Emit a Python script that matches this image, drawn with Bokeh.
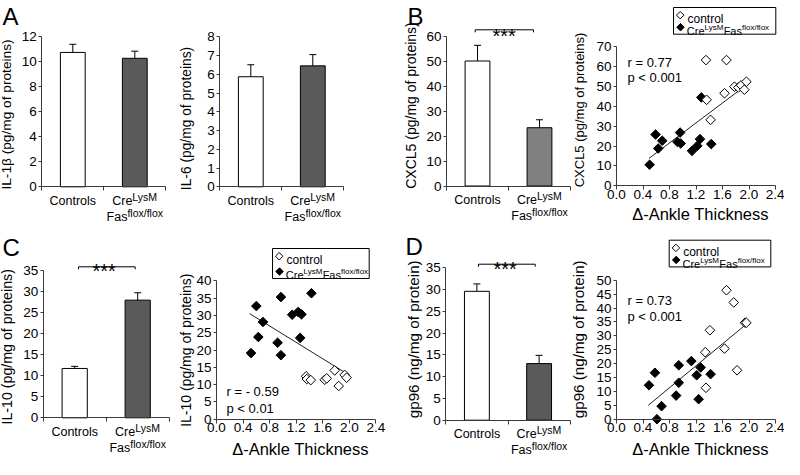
import math
from bokeh.plotting import figure
from bokeh.models import (Range1d, FixedTicker, PrintfTickFormatter, Label,
                          Whisker, TeeHead, ColumnDataSource, LinearAxis)
from bokeh.embed import file_html
from bokeh.resources import INLINE

FONT = "Liberation Sans"
AXIS_COLOR = "#3a3a3a"
CW_W, CW_H = 784, 459          # canvas size; page offset is 8 px

# ---------------- data ----------------
group_line1 = [[("Controls", 0)], [("Cre", 0), ("LysM", 1)]]
group_line2 = [[], [("Fas", 0), ("flox/flox", 1)]]

il1b_mean = [10.75, 10.28]
il1b_err = [0.65, 0.57]
il6_mean = [5.87, 6.45]
il6_err = [0.64, 0.60]
cxcl5_mean = [50.2, 23.4]
cxcl5_err = [6.3, 3.2]
il10_mean = [11.7, 27.9]
il10_err = [0.5, 1.75]
gp96_mean = [29.6, 13.0]
gp96_err = [1.7, 1.9]

# B: CXCL5 vs delta-ankle thickness
b_ctrl_x = [1.35, 1.66, 1.36, 1.42, 1.63, 1.78, 1.84, 1.88, 1.96, 1.93]
b_ctrl_y = [63.3, 63.3, 43.3, 33.2, 46.6, 49.9, 49.5, 50.6, 52.4, 48.4]
b_ko_x = [0.50, 0.59, 0.63, 0.69, 0.92, 0.96, 0.97, 1.14, 1.22, 1.26, 1.28, 1.43]
b_ko_y = [10.6, 25.8, 18.8, 22.7, 22.1, 26.8, 21.3, 17.6, 20.1, 23.5, 44.5, 21.0]
b_fit_x = [0.49, 1.95]
b_fit_y = [13.8, 50.5]

# C: IL-10 vs delta-ankle thickness
c_ctrl_x = [1.35, 1.36, 1.42, 1.63, 1.66, 1.78, 1.84, 1.93, 1.96]
c_ctrl_y = [12.4, 11.6, 11.3, 11.4, 11.8, 14.1, 9.6, 12.8, 12.0]
c_ko_x = [0.52, 0.60, 0.63, 0.70, 0.92, 0.97, 0.97, 1.14, 1.23, 1.28, 1.26, 1.43]
c_ko_y = [19.1, 32.7, 23.75, 28.1, 22.1, 35.3, 18.5, 30.2, 31.0, 30.3, 23.5, 36.4]
c_fit_x = [0.50, 1.96]
c_fit_y = [30.5, 13.2]

# D: gp96 vs delta-ankle thickness
d_ctrl_x = [1.66, 1.77, 1.94, 1.96, 1.41, 1.34, 1.63, 1.82, 1.35]
d_ctrl_y = [46.4, 42.0, 34.7, 34.7, 32.0, 24.1, 25.4, 17.6, 11.3]
d_ko_x = [0.49, 0.58, 0.68, 0.61, 0.90, 0.94, 0.94, 1.13, 1.21, 1.27, 1.24, 1.42]
d_ko_y = [12.2, 16.7, 4.7, 0.0, 8.5, 13.1, 19.4, 20.9, 15.8, 18.6, 7.2, 16.2]
d_fit_x = [0.48, 1.96]
d_fit_y = [5.0, 34.2]

ankle_ticks = [0.0, 0.4, 0.8, 1.2, 1.6, 2.0, 2.4]
x_title = "\u0394-Ankle Thickness"
stats_b = ["r = 0.77", "p < 0.001"]
stats_c = ["r = - 0.59", "p < 0.01"]
stats_d = ["r = 0.73", "p < 0.001"]
legend_names = ["control", [("Cre", 0), ("LysM", 1), ("Fas", 0), ("flox/flox", 1)]]

# ---------------- helpers ----------------
CW = {' ': 278, 'C': 722, 'r': 333, 'e': 556, 'L': 556, 'y': 500, 's': 500,
      'M': 833, 'F': 611, 'a': 556, 'f': 278, 'l': 222, 'o': 556, 'x': 500,
      '/': 278, 'c': 500, 'n': 556, 't': 278}


def tw(text, size):
    return sum(CW.get(ch, 556) for ch in text) / 1000.0 * size


p = figure(width=CW_W, height=CW_H, x_range=Range1d(0, CW_W), y_range=Range1d(0, CW_H),
           x_axis_type=None, y_axis_type=None, output_backend="svg",
           toolbar_location=None, min_border_left=0, min_border_right=0,
           min_border_top=0, min_border_bottom=0)
p.title.visible = False
p.outline_line_color = None
p.xgrid.visible = False
p.ygrid.visible = False
p.background_fill_color = "white"
p.border_fill_color = "white"

XR, YR = {}, {}


def cx(px):   # page x -> canvas x
    return px - 8


def cy(py):   # page y -> canvas y (upwards)
    return CW_H + 8 - py


def label(px, py, text, size, align="left", baseline="alphabetic", angle=0.0):
    p.add_layout(Label(x=cx(px), y=cy(py), text=text, text_font=FONT,
                       text_font_size=f"{size}px", text_align=align,
                       text_baseline=baseline, angle=angle, text_color="black"))


def rich(px_left, py_base, parts, size, sup_size, rise):
    x = px_left
    for text, sup in parts:
        s = sup_size if sup else size
        label(x, py_base - (rise if sup else 0), text, s)
        x += tw(text, s)


def rich_width(parts, size, sup_size):
    return sum(tw(t, sup_size if sup else size) for t, sup in parts)


class Pane:
    """A panel: its own data ranges laid over the shared canvas, axes at data 0."""

    def __init__(self, name, origin, xpx, ypx):
        self.name = name
        self.ox, self.oy = origin
        self.xpx, self.ypx = xpx, ypx
        XR[name] = Range1d((8 - self.ox) / xpx, (8 + CW_W - self.ox) / xpx)
        YR[name] = Range1d((self.oy - 8 - CW_H) / ypx, (self.oy - 8) / ypx)
        self.kw = dict(x_range_name=name, y_range_name=name)


def style_y(pane, ticks, ylabel, lab_size, lab_pos):
    ya = LinearAxis(fixed_location=0, ticker=FixedTicker(ticks=ticks),
                    bounds=(0, ticks[-1]), **pane.kw)
    ya.major_label_text_font = FONT
    ya.major_label_text_font_size = "13.5px"
    ya.major_label_text_color = "black"
    ya.major_label_standoff = 2
    ya.major_tick_in = 0
    ya.major_tick_out = 3
    ya.minor_tick_in = 0
    ya.minor_tick_out = 0
    ya.axis_line_color = AXIS_COLOR
    ya.major_tick_line_color = AXIS_COLOR
    p.add_layout(ya, "left")
    label(lab_pos[0], lab_pos[1], ylabel, lab_size, align="center",
          baseline="middle", angle=math.pi / 2)


def bar_panel(pane, means, errs, ticks, ylabel, lab_size, lab_pos, dark):
    xs = [0.5, 1.5]
    p.vbar(x=xs, top=means, bottom=0, width=0.4, fill_color=["white", dark],
           line_color="black", line_width=1, **pane.kw)
    src = ColumnDataSource(dict(x=xs, lo=[m - e for m, e in zip(means, errs)],
                                hi=[m + e for m, e in zip(means, errs)]))
    p.add_layout(Whisker(source=src, base="x", lower="lo", upper="hi",
                         line_color="black", line_width=1,
                         lower_head=TeeHead(size=7, line_color="black", line_width=1),
                         upper_head=TeeHead(size=7, line_color="black", line_width=1),
                         **pane.kw))
    style_y(pane, ticks, ylabel, lab_size, lab_pos)
    xa = LinearAxis(fixed_location=0, ticker=FixedTicker(ticks=[], minor_ticks=[0, 1, 2]),
                    bounds=(0, 2), **pane.kw)
    xa.major_tick_in = 0
    xa.major_tick_out = 0
    xa.minor_tick_in = 0
    xa.minor_tick_out = 4
    xa.axis_line_color = AXIS_COLOR
    xa.minor_tick_line_color = AXIS_COLOR
    p.add_layout(xa, "below")
    # category labels (with superscripts)
    for i in range(2):
        ccx = pane.ox + (i + 0.5) * pane.xpx
        for parts, base in ((group_line1[i], 13.7), (group_line2[i], 30.0)):
            if not parts:
                continue
            w = rich_width(parts, 12.5, 10.5)
            rich(ccx - w / 2, pane.oy + base, parts, 12.5, 10.5, 4)


def bracket(x0, x1, y, star_x, star_base):
    p.line([cx(x0), cx(x0), cx(x1), cx(x1)], [cy(y + 2.5), cy(y), cy(y), cy(y + 2.5)],
           line_color="black", line_width=1)
    label(star_x, star_base, "***", 20, align="center")


def scatter_panel(pane, ctx, cty, kx, ky, fx, fy, ticks, ylabel, lab_size,
                  lab_pos, xlab_pos, stats, stat_pos, legend_box):
    p.line(fx, fy, line_color="#202020", line_width=1, **pane.kw)
    p.scatter(kx, ky, marker="square", angle=math.pi / 4, size=6.8,
              fill_color="black", line_color="black", line_width=1, **pane.kw)
    p.scatter(ctx, cty, marker="square", angle=math.pi / 4, size=6.8,
              fill_color="white", line_color="black", line_width=1, **pane.kw)
    style_y(pane, ticks, ylabel, lab_size, lab_pos)
    xa = LinearAxis(fixed_location=0, ticker=FixedTicker(ticks=ankle_ticks),
                    formatter=PrintfTickFormatter(format="%.1f"), bounds=(0, 2.4),
                    **pane.kw)
    xa.major_label_text_font = FONT
    xa.major_label_text_font_size = "13.5px"
    xa.major_label_text_color = "black"
    xa.major_label_standoff = 0
    xa.major_tick_in = 0
    xa.major_tick_out = 4
    xa.minor_tick_in = 0
    xa.minor_tick_out = 0
    xa.axis_line_color = AXIS_COLOR
    xa.major_tick_line_color = AXIS_COLOR
    p.add_layout(xa, "below")
    label(xlab_pos[0], xlab_pos[1], x_title, 16.5, align="center")
    # r / p text
    sx, sy1, sy2 = stat_pos
    label(sx, sy1, stats[0], 13)
    label(sx, sy2, stats[1], 13)
    # legend
    L, T, W, H = legend_box
    p.quad(left=[cx(L)], right=[cx(L + W)], top=[cy(T)], bottom=[cy(T + H)],
           fill_color="white", line_color="black", line_width=1)
    p.scatter([cx(L + 6.7)], [cy(T + 7.7)], marker="square", angle=math.pi / 4,
              size=5.3, fill_color="white", line_color="black")
    p.scatter([cx(L + 7.0)], [cy(T + H - 7.0)], marker="square", angle=math.pi / 4,
              size=5.3, fill_color="black", line_color="black")
    label(L + 14, T + 11.7, legend_names[0], 12)
    rich(L + 13.3, T + H - 3.4, legend_names[1], 11, 8, 3.5)


# ---------------- panels (page pixel geometry) ----------------
A1 = Pane("a1", (49.3, 194.3), 62, 12.5)
bar_panel(A1, il1b_mean, il1b_err, [0, 2, 4, 6, 8, 10, 12],
          "IL-1\u03b2 (pg/mg of proteins)", 13.7, (14, 122), "#5a5a5a")
label(10, 23.5, "A", 24)

A2 = Pane("a2", (227.3, 194.3), 62, 18.75)
bar_panel(A2, il6_mean, il6_err, [0, 1, 2, 3, 4, 5, 6, 7, 8],
          "IL-6 (pg/mg of proteins)", 13.8, (194, 126), "#5a5a5a")

B1 = Pane("b1", (454, 193.5), 62, 2.49)
bar_panel(B1, cxcl5_mean, cxcl5_err, [0, 10, 20, 30, 40, 50, 60],
          "CXCL5 (pg/mg of proteins)", 14, (418, 113), "#808080")
bracket(482.7, 541, 37.3, 511.7, 43.5)
label(415, 23.5, "B", 24)

B2 = Pane("b2", (624, 193.3), 66.25, 1.986)
scatter_panel(B2, b_ctrl_x, b_ctrl_y, b_ko_x, b_ko_y, b_fit_x, b_fit_y,
              [0, 10, 20, 30, 40, 50, 60, 70], "CXCL5 (pg/mg of proteins)", 13,
              (587, 117.5), (708, 221), stats_b, (635, 70, 85), (681, 15, 102.3, 26.7))

C1 = Pane("c1", (50.7, 425.3), 63, 4.217)
bar_panel(C1, il10_mean, il10_err, [0, 5, 10, 15, 20, 25, 30, 35],
          "IL-10 (pg/mg of proteins)", 14.2, (14, 354.3), "#5a5a5a")
bracket(86, 142.7, 274.3, 111.7, 278.6)
label(10, 255, "C", 24)

C2 = Pane("c2", (224, 426.7), 66.4, 3.46)
scatter_panel(C2, c_ctrl_x, c_ctrl_y, c_ko_x, c_ko_y, c_fit_x, c_fit_y,
              [0, 5, 10, 15, 20, 25, 30, 35, 40], "IL-10 (pg/mg of proteins)", 14,
              (193.5, 357.7), (308, 456.5), stats_c, (234, 399, 416), (280, 256, 96.7, 30))

D1 = Pane("d1", (453.3, 427.7), 62.2, 4.354)
bar_panel(D1, gp96_mean, gp96_err, [0, 5, 10, 15, 20, 25, 30, 35],
          "gp96 (ng/mg of protein)", 15.2, (421, 346.8), "#5a5a5a")
bracket(486, 542.7, 271.7, 512.7, 276.9)
label(413, 254.3, "D", 24)

D2 = Pane("d2", (624, 426.7), 66.25, 2.78)
scatter_panel(D2, d_ctrl_x, d_ctrl_y, d_ko_x, d_ko_y, d_fit_x, d_fit_y,
              [0, 5, 10, 15, 20, 25, 30, 35, 40, 45, 50], "gp96 (ng/mg of protein)", 15.2,
              (586, 346.8), (708, 456.5), stats_d, (635, 308, 324), (676.7, 247.7, 101.6, 26.7))

p.extra_x_ranges = XR
p.extra_y_ranges = YR

with open("out.html", "w") as f:
    f.write(file_html(p, INLINE))
